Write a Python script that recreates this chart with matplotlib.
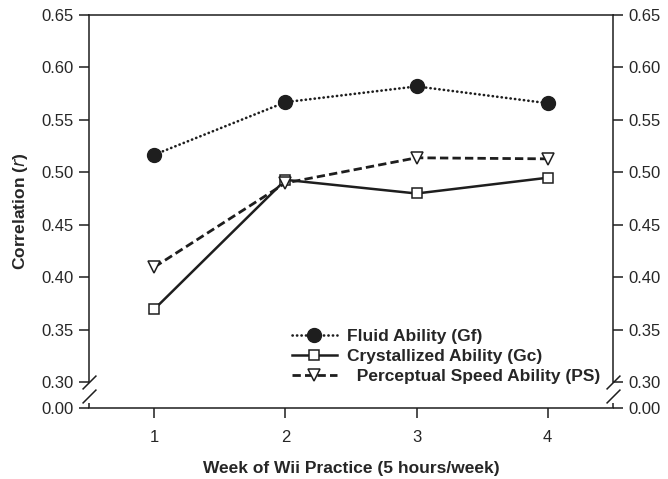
import numpy as np
import matplotlib
matplotlib.use("Agg")
import matplotlib.pyplot as plt
import matplotlib.transforms as mtransforms

plt.rcParams['font.family'] = ['Liberation Sans', 'DejaVu Sans']

# data
weeks = [1, 2, 3, 4]
fluid = [0.517, 0.567, 0.582, 0.566]
cryst = [0.370, 0.493, 0.480, 0.495]
speed = [0.410, 0.490, 0.514, 0.513]
labels = ['Fluid Ability (Gf)', 'Crystallized Ability (Gc)', '  Perceptual Speed Ability (PS)']
yticks = [0.00, 0.30, 0.35, 0.40, 0.45, 0.50, 0.55, 0.60, 0.65]

INK = '#1e1e1e'
TXT = '#262626'

# broken y axis: 0 - 0.30 squeezed into a short stub
BRK = 0.30
STUB = 0.0243


def fwd(y):
    y = np.asarray(y, dtype=float)
    return np.where(y >= BRK, y, BRK - STUB + y * STUB / BRK)


def inv(z):
    z = np.asarray(z, dtype=float)
    return np.where(z >= BRK, z, (z - BRK + STUB) * BRK / STUB)


fig = plt.figure(figsize=(6.68, 4.79), dpi=100)
ax = fig.add_axes([0.1332, 0.1482, 0.7845, 0.8205])
ax.set_yscale('function', functions=(fwd, inv))

ax.plot(weeks, fluid, color=INK, lw=1.9, linestyle=(0, (0.1, 1.6)),
        dash_capstyle='round', marker='o', ms=10, mfc=INK, mec=INK,
        label=labels[0], zorder=3)
ax.plot(weeks, cryst, color=INK, lw=1.8, linestyle='-',
        marker='s', ms=7.8, mfc='white', mec=INK, mew=1.1,
        label=labels[1], zorder=3)
ax.plot(weeks, speed, color=INK, lw=2.0, linestyle=(0, (3.0, 1.5)),
        marker='v', ms=8.5, mfc='white', mec=INK, mew=1.1,
        label=labels[2], zorder=3)

ax.set_xlim(0.5, 4.5)
ax.set_ylim(0, 0.65)
ax.set_xticks(weeks)
ax.set_yticks(yticks)
ax.set_yticklabels(['%.2f' % t for t in yticks])

ax2 = ax.twinx()
ax2.set_yscale('function', functions=(fwd, inv))
ax2.set_ylim(0, 0.65)
ax2.set_yticks(yticks)
ax2.set_yticklabels(['%.2f' % t for t in yticks])
for s in ax2.spines.values():
    s.set_visible(False)

for a in (ax, ax2):
    a.tick_params(axis='both', direction='out', length=7, width=1.1,
                  color=INK, labelcolor=TXT, labelsize=12, pad=4)
ax.tick_params(axis='x', pad=9)

for s in ax.spines.values():
    s.set_color(INK)
    s.set_linewidth(1.1)
ax.spines['left'].set_bounds(BRK, 0.65)
ax.spines['right'].set_bounds(BRK, 0.65)

# little stubs of the spines below the break plus the break marks
for xa in (0, 1):
    tr = mtransforms.blended_transform_factory(ax.transAxes, ax.transData)
    ax.plot([xa, xa], [0, 0.06], transform=tr, color=INK, lw=1.1,
            clip_on=False, solid_capstyle='butt')
    ax.plot([xa, xa], [BRK, 0.141], transform=tr, linestyle='none',
            marker=[(-1, -1), (1, 1)], ms=10, mec=INK, mew=1.1,
            clip_on=False)

ax.set_xlabel('Week of Wii Practice (5 hours/week)', fontsize=12.5,
              fontweight='bold', color=TXT, labelpad=11)
ax.set_ylabel('Correlation ($\\mathbf{\\it{r}}$)', fontsize=12.5,
              fontweight='bold', color=TXT, labelpad=8)

leg = ax.legend(loc='lower left', bbox_to_anchor=(0.387, 0.06),
                frameon=False, prop={'weight': 'bold', 'size': 12.5},
                handlelength=2.6, handletextpad=0.6, labelspacing=0.3,
                borderpad=0, borderaxespad=0)
for t in leg.get_texts():
    t.set_color(TXT)

fig.savefig('out.png', dpi=100)
